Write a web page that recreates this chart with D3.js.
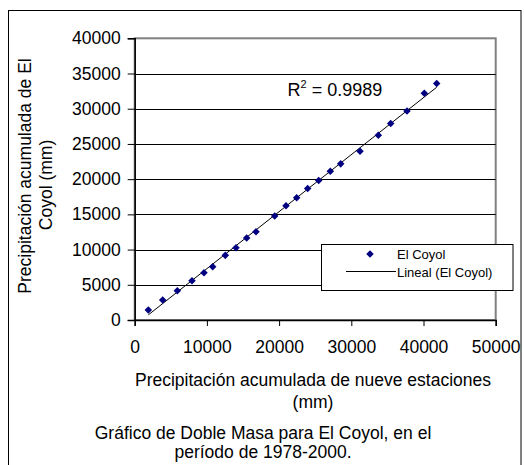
<!DOCTYPE html>
<html><head><meta charset="utf-8">
<script src="https://cdn.jsdelivr.net/npm/d3@7"></script>
<style>body{margin:0;background:#fff}svg{display:block}text{font-family:"Liberation Sans",Arial,sans-serif;fill:#000}</style>
</head><body><svg id="c" width="524" height="465"></svg>
<script>
const xValues = [1884,3878,5900,7936,9598,10803,12548,14030,15512,16800,19390,20955,22437,23960,25484,27091,28531,31204,33739,35456,37714,40110,41827];
const yValues = [1418,2837,4156,5574,6709,7560,9177,10255,11631,12525,14752,16212,17348,18680,19815,21134,22170,23971,26241,27901,29688,32198,33574];
const xTicks = [0,10000,20000,30000,40000,50000];
const yTicks = [0,5000,10000,15000,20000,25000,30000,35000,40000];
const seriesName = "El Coyol";
const trendName = "Lineal (El Coyol)";
const r2Text = "0.9989";

const svg = d3.select("#c");
const FS = 17.5;
const L=134.7, R=495.7, T=38.3, B=320;
const x = d3.scaleLinear().domain([0,50000]).range([L,R]);
const y = d3.scaleLinear().domain([0,40000]).range([B,T]);

// outer border
svg.append("rect").attr("x",8.5).attr("y",10.5).attr("width",512.5).attr("height",470).attr("fill","none").attr("stroke","#000").attr("stroke-width",1);

// plot area border
svg.append("rect").attr("x",L).attr("y",T).attr("width",R-L).attr("height",B-T).attr("fill","#fff").attr("stroke","#808080").attr("stroke-width",2);

// gridlines
svg.append("g").selectAll("line").data(yTicks.filter(d=>d>0&&d<40000)).join("line")
  .attr("x1",L).attr("x2",R).attr("y1",d=>Math.round(y(d))+0.5).attr("y2",d=>Math.round(y(d))+0.5)
  .attr("stroke","#000").attr("stroke-width",1);

// axes
const ya = svg.append("g").attr("transform",`translate(${L},0)`).call(d3.axisLeft(y).tickValues(yTicks).tickSize(7).tickPadding(7).tickFormat(d3.format("d")));
const xa = svg.append("g").attr("transform",`translate(0,${B})`).call(d3.axisBottom(x).tickValues(xTicks).tickSize(6).tickPadding(15).tickFormat(d3.format("d")));
[ya,xa].forEach(a=>{a.select(".domain").attr("stroke","#000").attr("stroke-width",1.5);a.selectAll(".tick line").attr("stroke","#000");a.selectAll("text").attr("font-size",FS).attr("font-family","Liberation Sans, Arial, sans-serif");});

// trend line (least squares)
const n=xValues.length;
const mx=d3.mean(xValues), my=d3.mean(yValues);
let sxy=0,sxx=0; for(let i=0;i<n;i++){sxy+=(xValues[i]-mx)*(yValues[i]-my);sxx+=(xValues[i]-mx)**2;}
const slope=sxy/sxx, icpt=my-slope*mx;
const x0=d3.min(xValues), x1=d3.max(xValues);
svg.append("line").attr("x1",x(x0)).attr("y1",y(icpt+slope*x0)).attr("x2",x(x1)).attr("y2",y(icpt+slope*x1)).attr("stroke","#000").attr("stroke-width",1);

// points
const diamond = d3.symbol().type(d3.symbolDiamond2).size(36);
svg.append("g").selectAll("path").data(xValues.map((v,i)=>[v,yValues[i]])).join("path")
  .attr("d",diamond).attr("transform",d=>`translate(${x(d[0])},${y(d[1])})`).attr("fill","#000080");

// R2 label
const rt = svg.append("text").attr("x",287.5).attr("y",96).attr("font-size",18);
rt.append("tspan").text("R");
rt.append("tspan").attr("dy",-8).attr("font-size",11).text("2");
rt.append("tspan").attr("dy",8).text(" = "+r2Text);

// legend
svg.append("rect").attr("x",321.5).attr("y",244.5).attr("width",191.5).attr("height",46).attr("fill","#fff").attr("stroke","#000").attr("stroke-width",1);
svg.append("path").attr("d",diamond).attr("transform","translate(370,254)").attr("fill","#000080");
svg.append("text").attr("x",397).attr("y",258.5).attr("font-size",13).text(seriesName);
svg.append("line").attr("x1",346).attr("x2",396).attr("y1",271.5).attr("y2",271.5).attr("stroke","#000");
svg.append("text").attr("x",397).attr("y",276.5).attr("font-size",13).text(trendName);

// y axis title
svg.append("text").attr("transform","translate(30.5,176) rotate(-90)").attr("text-anchor","middle").attr("font-size",FS).text("Precipitación acumulada de El");
svg.append("text").attr("transform","translate(52,185) rotate(-90)").attr("text-anchor","middle").attr("font-size",FS).text("Coyol (mm)");

// x axis title
svg.append("text").attr("x",313).attr("y",386).attr("text-anchor","middle").attr("font-size",FS).text("Precipitación acumulada de nueve estaciones");
svg.append("text").attr("x",313).attr("y",408).attr("text-anchor","middle").attr("font-size",FS).text("(mm)");

// caption
svg.append("text").attr("x",263).attr("y",439).attr("text-anchor","middle").attr("font-size",FS).text("Gráfico de Doble Masa para El Coyol, en el");
svg.append("text").attr("x",263).attr("y",458).attr("text-anchor","middle").attr("font-size",FS).text("período de 1978-2000.");
</script></body></html>
